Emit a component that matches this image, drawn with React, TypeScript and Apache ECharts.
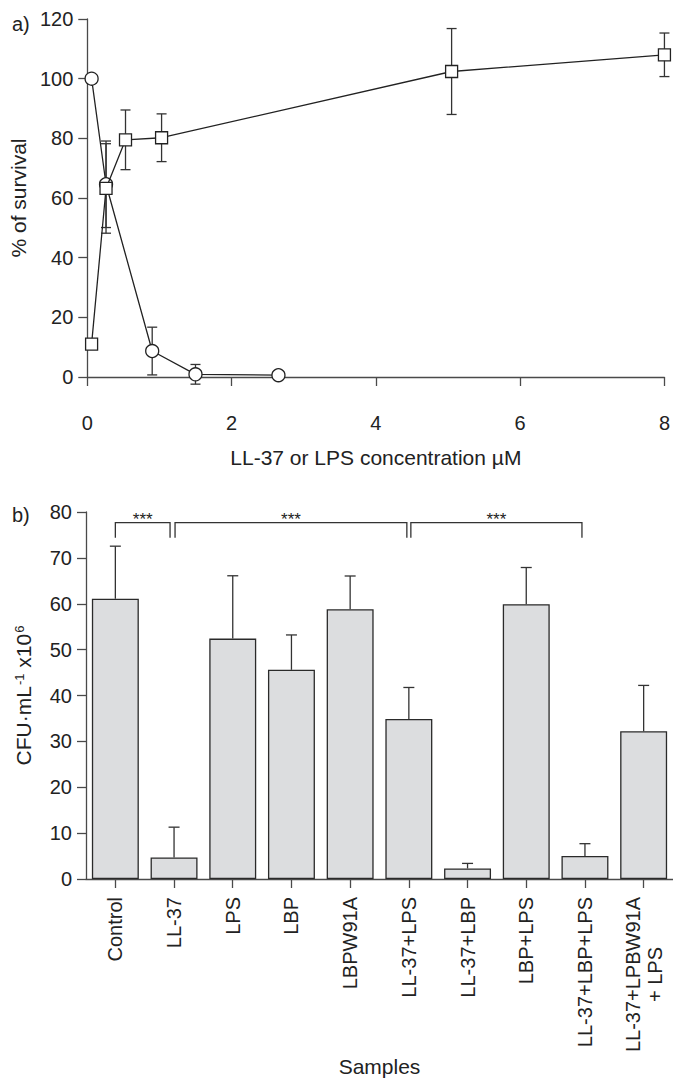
import React, { useEffect, useRef } from "react";
import * as echarts from "echarts";

// ---------- Panel a) data ----------
const lpsX = [0.06, 0.26, 0.53, 1.03, 5.05, 8];
const lpsY = [11, 63.2, 79.5, 80.2, 102.4, 108];
const lpsErr = [0, 15, 10, 8, 14.4, 7.3];

const ll37X = [0.06, 0.26, 0.9, 1.5, 2.65];
const ll37Y = [100, 64.6, 8.7, 0.9, 0.6];
const ll37Err = [0, 14.5, 8, 3.3, 0];

const xTicksA = [0, 2, 4, 6, 8];
const yTicksA = [0, 20, 40, 60, 80, 100, 120];

// ---------- Panel b) data ----------
const categories = [
  "Control",
  "LL-37",
  "LPS",
  "LBP",
  "LBPW91A",
  "LL-37+LPS",
  "LL-37+LBP",
  "LBP+LPS",
  "LL-37+LBP+LPS",
  "LL-37+LPBW91A\n+ LPS",
];
const cfu = [61.1, 4.7, 52.4, 45.6, 58.8, 34.9, 2.3, 59.9, 5.0, 32.2];
const cfuErr = [11.45, 6.6, 13.7, 7.6, 7.25, 6.85, 1.1, 8.0, 2.7, 10.0];

const sigStart = [0, 1, 5];
const sigEnd = [1, 5, 8];
const sigLabel = ["***", "***", "***"];
const sigTop = 77.7;
const sigLow = 74.4;

const FONT = "'Liberation Sans', Arial, Helvetica, sans-serif";
const TXT = "#222";
const AX = "#4a4a4a";

export default function App() {
  const ref = useRef<HTMLDivElement>(null);

  useEffect(() => {
    document.body.style.margin = "0";
    if (!ref.current) return;
    const chart = echarts.init(ref.current, undefined, { renderer: "svg" });

    const axisLine = { show: true, lineStyle: { color: AX, width: 1.3 } };
    const axisTick = { show: true, length: 9, lineStyle: { color: AX, width: 1.3 } };

    const errA = (xs: number[], ys: number[], es: number[]) =>
      xs.map((x, i) => [x, ys[i], es[i]]);

    const errRender = (params: any, api: any) => {
      const x = api.value(0);
      const y = api.value(1);
      const e = api.value(2);
      if (!e) return null;
      const t = api.coord([x, y + e]);
      const b = api.coord([x, y - e]);
      const cap = 5;
      const style = { stroke: "#333", lineWidth: 1.3 };
      return {
        type: "group",
        children: [
          { type: "line", shape: { x1: t[0], y1: t[1], x2: b[0], y2: b[1] }, style },
          { type: "line", shape: { x1: t[0] - cap, y1: t[1], x2: t[0] + cap, y2: t[1] }, style },
          { type: "line", shape: { x1: b[0] - cap, y1: b[1], x2: b[0] + cap, y2: b[1] }, style },
        ],
      };
    };

    const barErrRender = (params: any, api: any) => {
      const i = api.value(0);
      const y = api.value(1);
      const e = api.value(2);
      const t = api.coord([i, y + e]);
      const b = api.coord([i, y]);
      const cap = 5.5;
      const style = { stroke: "#333", lineWidth: 1.3 };
      return {
        type: "group",
        children: [
          { type: "line", shape: { x1: t[0], y1: t[1], x2: b[0], y2: b[1] }, style },
          { type: "line", shape: { x1: t[0] - cap, y1: t[1], x2: t[0] + cap, y2: t[1] }, style },
        ],
      };
    };

    const sigOffsets = [
      [0, -4],
      [1, -2],
      [2, -3],
    ];
    const sigRender = (params: any, api: any) => {
      const s = api.value(0);
      const e = api.value(1);
      const idx = params.dataIndex;
      const p1 = api.coord([s, sigTop]);
      const p2 = api.coord([e, sigTop]);
      const low = api.coord([s, sigLow])[1];
      const x1 = p1[0] + sigOffsets[idx][0];
      const x2 = p2[0] + sigOffsets[idx][1];
      const y = p1[1];
      return {
        type: "group",
        children: [
          {
            type: "polyline",
            shape: { points: [[x1, low], [x1, y], [x2, y], [x2, low]] },
            style: { stroke: "#333", lineWidth: 1.3, fill: "none" },
          },
          {
            type: "text",
            x: (x1 + x2) / 2,
            y: y - 3,
            style: {
              text: sigLabel[idx],
              fill: TXT,
              fontSize: 17,
              fontFamily: FONT,
              align: "center",
              verticalAlign: "middle",
            },
          },
        ],
      };
    };

    const option: any = {
      animation: false,
      backgroundColor: "#fff",
      textStyle: { fontFamily: FONT, color: TXT },
      graphic: [
        {
          type: "text",
          left: 12,
          top: 14,
          style: { text: "a)", fontSize: 20, fontFamily: FONT, fill: TXT },
        },
        {
          type: "text",
          left: 12,
          top: 505,
          style: { text: "b)", fontSize: 20, fontFamily: FONT, fill: TXT },
        },
      ],
      grid: [
        { left: 86, right: 3, top: 19, height: 358, containLabel: false },
        { left: 86, right: 0, top: 512, height: 372.5, containLabel: false },
      ],
      xAxis: [
        {
          gridIndex: 0,
          type: "value",
          min: xTicksA[0],
          max: xTicksA[xTicksA.length - 1],
          interval: 2,
          offset: 22,
          name: "LL-37 or LPS concentration µM",
          nameLocation: "middle",
          nameGap: 48,
          nameTextStyle: { fontSize: 21, color: TXT, fontFamily: FONT },
          axisLine,
          axisTick,
          splitLine: { show: false },
          axisLabel: { fontSize: 20, color: TXT, margin: 14, fontFamily: FONT },
        },
        {
          gridIndex: 1,
          type: "category",
          data: categories,
          name: "Samples",
          nameLocation: "middle",
          nameGap: 168,
          nameTextStyle: { fontSize: 21, color: TXT, fontFamily: FONT },
          axisLine,
          axisTick: { ...axisTick, alignWithLabel: true },
          axisLabel: {
            interval: 0,
            rotate: 90,
            fontSize: 20,
            color: TXT,
            margin: 18,
            fontFamily: FONT,
            lineHeight: 22,
            formatter: (v: string) => {
              if (v.indexOf("\n") >= 0) {
                const parts = v.split("\n");
                return "{a|" + parts[0] + "}\n{b|" + parts[1] + "}";
              }
              return v;
            },
            rich: {
              a: { fontSize: 20, fontFamily: FONT, color: TXT, lineHeight: 22 },
              b: { fontSize: 20, fontFamily: FONT, color: TXT, align: "center", lineHeight: 22 },
            },
          },
        },
      ],
      yAxis: [
        {
          gridIndex: 0,
          type: "value",
          min: yTicksA[0],
          max: yTicksA[yTicksA.length - 1],
          interval: 20,
          name: "% of survival",
          nameLocation: "middle",
          nameRotate: 90,
          nameGap: 52,
          nameTextStyle: { fontSize: 21, color: TXT, fontFamily: FONT },
          axisLine,
          axisTick,
          splitLine: { show: false },
          axisLabel: { fontSize: 20, color: TXT, margin: 14, fontFamily: FONT },
        },
        {
          gridIndex: 1,
          type: "value",
          min: 0,
          max: 80,
          interval: 10,
          name: "{n|CFU·mL}{s|-1}{n| x10}{s|6}",
          nameLocation: "middle",
          nameRotate: 90,
          nameGap: 52,
          nameTextStyle: {
            fontSize: 21,
            color: TXT,
            fontFamily: FONT,
            rich: {
              n: { fontSize: 21, fontFamily: FONT, color: TXT },
              s: { fontSize: 13, fontFamily: FONT, color: TXT, verticalAlign: "top", padding: [0, 0, 8, 1] },
            },
          },
          axisLine,
          axisTick,
          splitLine: { show: false },
          axisLabel: { fontSize: 20, color: TXT, margin: 14, fontFamily: FONT },
        },
      ],
      series: [
        {
          type: "custom",
          xAxisIndex: 0,
          yAxisIndex: 0,
          renderItem: errRender,
          data: errA(ll37X, ll37Y, ll37Err),
          z: 1,
        },
        {
          type: "custom",
          xAxisIndex: 0,
          yAxisIndex: 0,
          renderItem: errRender,
          data: errA(lpsX, lpsY, lpsErr),
          z: 1,
        },
        {
          type: "line",
          name: "LL-37",
          xAxisIndex: 0,
          yAxisIndex: 0,
          data: ll37X.map((x, i) => [x, ll37Y[i]]),
          symbol: "circle",
          symbolSize: 13,
          showAllSymbol: true,
          lineStyle: { color: "#222", width: 1.3 },
          itemStyle: { color: "#fff", borderColor: "#222", borderWidth: 1.3 },
          z: 3,
        },
        {
          type: "line",
          name: "LPS",
          xAxisIndex: 0,
          yAxisIndex: 0,
          data: lpsX.map((x, i) => [x, lpsY[i]]),
          symbol: "rect",
          symbolSize: 12,
          showAllSymbol: true,
          lineStyle: { color: "#222", width: 1.3 },
          itemStyle: { color: "#fff", borderColor: "#222", borderWidth: 1.3 },
          z: 4,
        },
        {
          type: "custom",
          xAxisIndex: 1,
          yAxisIndex: 1,
          renderItem: barErrRender,
          data: categories.map((c, i) => [i, cfu[i], cfuErr[i]]),
          z: 1,
        },
        {
          type: "bar",
          xAxisIndex: 1,
          yAxisIndex: 1,
          data: cfu,
          barCategoryGap: "20%",
          itemStyle: { color: "#dcdddf", borderColor: "#2a2a2a", borderWidth: 1.3 },
          z: 2,
        },
        {
          type: "custom",
          xAxisIndex: 1,
          yAxisIndex: 1,
          renderItem: sigRender,
          data: sigStart.map((s, i) => [s, sigEnd[i]]),
          z: 3,
        },
      ],
    };

    chart.setOption(option);
    return () => chart.dispose();
  }, []);

  return <div ref={ref} style={{ width: 673, height: 1078 }} />;
}
